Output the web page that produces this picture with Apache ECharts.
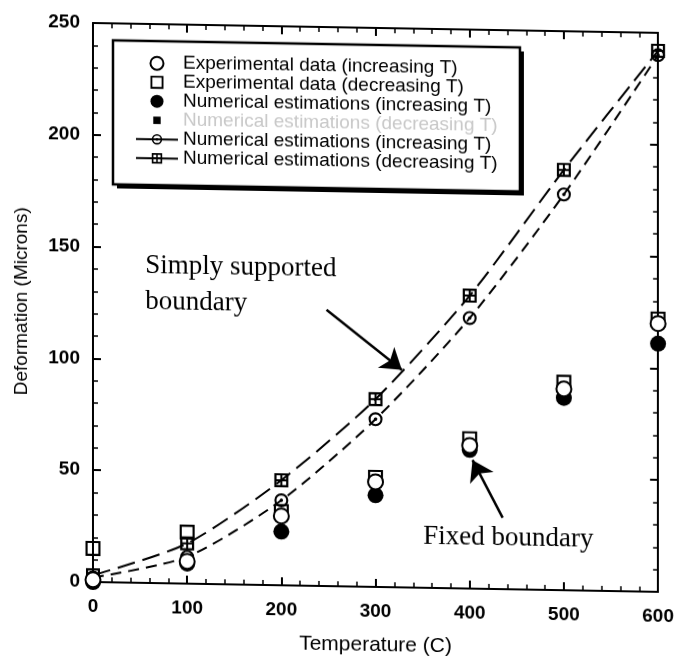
<!DOCTYPE html>
<html><head><meta charset="utf-8">
<script src="https://cdn.jsdelivr.net/npm/echarts@6/dist/echarts.min.js"></script>
<style>
html,body{margin:0;padding:0;background:#fff;}
#chart{width:677px;height:656px;transform:skewY(1deg);transform-origin:93px 0;}
</style>
</head><body><div id="chart"></div>
<script>
// ---- data ----
const temperatures = [0, 100, 200, 300, 400, 500, 600];
const expIncreasing = [1, 10, 31, 47, 64, 90, 120];
const expDecreasing = [15, 23, 33, 49, 67, 93, 122];
const numIncreasingPts = [0, 9, 24, 41, 62, 86, 111];
const numDecreasingPts = [0, 9, 23, 40, 61, 85, 110];
const simplyIncreasing = [2, 12, 38, 75, 121, 177, 240];
const simplyDecreasing = [3, 18, 47, 84, 131, 188, 242];
const xTickLabels = ['0', '100', '200', '300', '400', '500', '600'];
const yTickLabels = ['0', '50', '100', '150', '200', '250'];
const seriesNames = [
  'Experimental data (increasing T)',
  'Experimental data (decreasing T)',
  'Numerical estimations (increasing T)',
  'Numerical estimations (decreasing T)',
  'Numerical estimations (increasing T) ',
  'Numerical estimations (decreasing T) '
];
const annotationTexts = ['Simply supported', 'boundary', 'Fixed boundary'];
const annotationAnchors = [[55, 142], [55, 125.5], [350, 22.7]];
const arrowLines = [[[248, 123.5], [328, 97.3]], [[435, 31.9], [403, 57.5]]];

// ---- helpers ----
const pairs = arr => temperatures.map((t, i) => [t, arr[i]]);
const SYM_DOTCIRCLE = 'path://M0,10A10,10,0,1,1,20,10A10,10,0,1,1,0,10ZM3,10A7,7,0,1,0,17,10A7,7,0,1,0,3,10ZM7.5,10A2.5,2.5,0,1,1,12.5,10A2.5,2.5,0,1,1,7.5,10Z';
const SYM_GRIDSQ = 'path://M0,0H14V14H0ZM2.2,2.2V6H6V2.2ZM8,2.2V6H11.8V2.2ZM2.2,8V11.8H6V8ZM8,8V11.8H11.8V8Z';
const SYM_OPENSQ = 'path://M0,0H14V14H0ZM2,2V12H12V2Z';
const SYM_SMALLSQ = 'path://M0,0M14,14M3,3H11V11H3Z';
const FONT = 'Liberation Sans';
const SERIF = 'Liberation Serif';

const chart = echarts.init(document.getElementById('chart'), null, {renderer: 'canvas'});

function axisCommon(showLabels) {
  return {
    axisLine: {show: true, onZero: false, lineStyle: {color: '#000', width: 2}},
    axisTick: {show: true, inside: true, length: 8, lineStyle: {color: '#000', width: 2}},
    minorTick: {show: true, splitNumber: 5, length: 5, lineStyle: {color: '#000', width: 1.5}},
    splitLine: {show: false},
    minorSplitLine: {show: false},
    axisLabel: {show: showLabels}
  };
}
const tickFont = {color: '#000', fontFamily: FONT, fontSize: 19, fontWeight: 'bold'};

const option = {
  animation: false,
  backgroundColor: '#fff',
  grid: {left: 93, right: 18, top: 23, bottom: 74, containLabel: false},
  graphic: [
    {type: 'rect', z: 0, shape: {x: 117, y: 44, width: 407, height: 144}, style: {fill: '#000'}},
    {type: 'rect', z: 1, shape: {x: 113, y: 40, width: 407, height: 144},
      style: {fill: '#fff', stroke: '#000', lineWidth: 2.5}}
  ],
  xAxis: [
    Object.assign({
      type: 'value', position: 'bottom', min: 0, max: 600, interval: 100,
      name: 'Temperature (C)', nameLocation: 'middle', nameGap: 48,
      nameTextStyle: {color: '#000', fontFamily: FONT, fontSize: 21}
    }, axisCommon(true), {
      axisLabel: Object.assign({show: true, margin: 15,
        formatter: v => xTickLabels[temperatures.indexOf(v)] ?? ''}, tickFont)
    }),
    Object.assign({type: 'value', position: 'top', min: 0, max: 600, interval: 100}, axisCommon(false))
  ],
  yAxis: [
    Object.assign({
      type: 'value', position: 'left', min: 0, max: 250, interval: 50,
      name: 'Deformation (Microns)', nameLocation: 'middle', nameGap: 62,
      nameTextStyle: {color: '#000', fontFamily: FONT, fontSize: 19}
    }, axisCommon(true), {
      axisLabel: Object.assign({show: true, margin: 13,
        formatter: v => yTickLabels[v / 50] ?? ''}, tickFont)
    }),
    Object.assign({type: 'value', position: 'right', min: 0, max: 250, interval: 50}, axisCommon(false))
  ],
  legend: {
    orient: 'vertical', left: 135, top: 52.7, z: 5,
    padding: 0,
    itemWidth: 42, itemHeight: 13, itemGap: 0,
    selectedMode: false,
    textStyle: {color: '#000', fontFamily: FONT, fontSize: 19, lineHeight: 18.6},
    lineStyle: {type: 'solid', width: 2, color: '#000'},
    formatter: n => n.trim(),
    data: [
      {name: seriesNames[0]},
      {name: seriesNames[1]},
      {name: seriesNames[2]},
      {name: seriesNames[3], textStyle: {color: '#c8c8c8'}},
      {name: seriesNames[4]},
      {name: seriesNames[5]}
    ]
  },
  series: [
    {
      name: seriesNames[4], type: 'line', data: pairs(simplyIncreasing), smooth: 0.25,
      symbol: SYM_DOTCIRCLE, symbolSize: 14, showAllSymbol: true,
      lineStyle: {color: '#000', width: 2, type: [11, 7]},
      itemStyle: {color: '#000', borderWidth: 0, opacity: 1}, z: 3
    },
    {
      name: seriesNames[5], type: 'line', data: pairs(simplyDecreasing), smooth: 0.25,
      symbol: SYM_GRIDSQ, symbolSize: 14, showAllSymbol: true,
      lineStyle: {color: '#000', width: 2, type: [18, 8]},
      itemStyle: {color: '#000', borderWidth: 0, opacity: 1}, z: 3,
      markLine: {
        silent: true, symbol: ['none', 'arrow'], symbolSize: 20,
        label: {show: false},
        lineStyle: {color: '#000', width: 2.5, type: 'solid'},
        data: arrowLines.map(l => [{coord: l[0]}, {coord: l[1]}])
      },
      markPoint: {
        silent: true, symbol: 'circle', symbolSize: 1,
        itemStyle: {color: 'rgba(0,0,0,0)'},
        label: {show: true, position: 'right', distance: 0, formatter: '{b}',
          color: '#000', fontFamily: SERIF, fontSize: 27},
        data: annotationTexts.map((t, i) => ({name: t, coord: annotationAnchors[i]}))
      }
    },
    {
      name: seriesNames[2], type: 'scatter', data: pairs(numIncreasingPts),
      symbol: 'circle', symbolSize: 16, itemStyle: {color: '#000', opacity: 1}, z: 4
    },
    {
      name: seriesNames[3], type: 'scatter', data: pairs(numDecreasingPts),
      symbol: SYM_SMALLSQ, symbolSize: 14, itemStyle: {color: '#000', opacity: 1}, z: 4
    },
    {
      name: seriesNames[1], type: 'scatter', data: pairs(expDecreasing),
      symbol: SYM_OPENSQ, symbolSize: 15, itemStyle: {color: '#000', opacity: 1}, z: 5
    },
    {
      name: seriesNames[0], type: 'scatter', data: pairs(expIncreasing),
      symbol: 'circle', symbolSize: 15,
      itemStyle: {color: '#fff', borderColor: '#000', borderWidth: 2, opacity: 1}, z: 5
    }
  ]
};
chart.setOption(option);
</script>
</body></html>
